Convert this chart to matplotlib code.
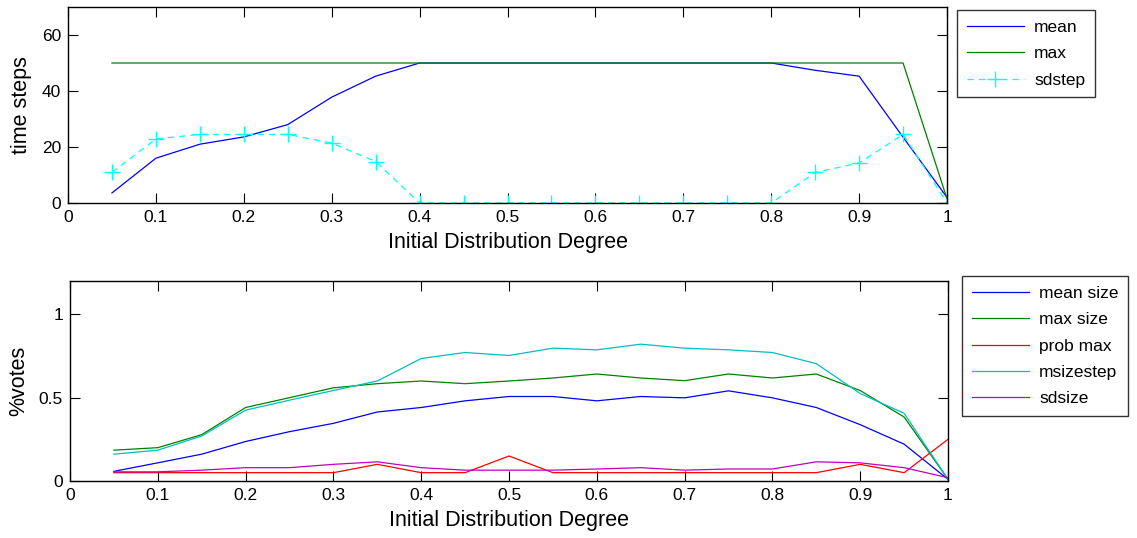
import matplotlib
matplotlib.use("Agg")
import matplotlib.pyplot as plt
import numpy as np

plt.rcParams['font.family'] = ['Liberation Sans', 'DejaVu Sans']

degree = [0.05, 0.10, 0.15, 0.20, 0.25, 0.30, 0.35, 0.40, 0.45, 0.50,
          0.55, 0.60, 0.65, 0.70, 0.75, 0.80, 0.85, 0.90, 0.95, 1.00]

# top panel
mean_steps = [3.6, 16.0, 21.0, 23.6, 28.0, 37.8, 45.3, 50, 50, 50,
              50, 50, 50, 50, 50, 50, 47.4, 45.3, 23.5, 2.0]
max_steps = [50, 50, 50, 50, 50, 50, 50, 50, 50, 50,
             50, 50, 50, 50, 50, 50, 50, 50, 50, 1.5]
sd_steps = [10.9, 22.9, 24.5, 24.5, 24.5, 21.4, 14.8, 0, 0, 0,
            0, 0, 0, 0, 0, 0, 10.9, 14.3, 24.5, 0]

# bottom panel
mean_size = [0.058, 0.109, 0.161, 0.237, 0.296, 0.346, 0.414, 0.441, 0.481, 0.507,
             0.507, 0.481, 0.507, 0.499, 0.541, 0.499, 0.441, 0.338, 0.221, 0.01]
max_size = [0.185, 0.20, 0.278, 0.441, 0.50, 0.559, 0.584, 0.60, 0.584, 0.60,
            0.618, 0.642, 0.618, 0.602, 0.642, 0.618, 0.642, 0.543, 0.384, 0.01]
prob_max = [0.05, 0.05, 0.05, 0.05, 0.05, 0.05, 0.10, 0.05, 0.05, 0.15,
            0.05, 0.05, 0.05, 0.05, 0.05, 0.05, 0.05, 0.10, 0.05, 0.25]
msizestep = [0.161, 0.185, 0.27, 0.425, 0.485, 0.543, 0.60, 0.735, 0.771, 0.753,
             0.797, 0.787, 0.821, 0.797, 0.787, 0.771, 0.704, 0.525, 0.406, 0.01]
sdsize = [0.055, 0.055, 0.065, 0.08, 0.08, 0.10, 0.115, 0.08, 0.065, 0.065,
          0.065, 0.072, 0.08, 0.065, 0.072, 0.072, 0.115, 0.109, 0.08, 0.02]

x_ticks = [0, 0.1, 0.2, 0.3, 0.4, 0.5, 0.6, 0.7, 0.8, 0.9, 1]
x_ticklabels = ['0', '0.1', '0.2', '0.3', '0.4', '0.5', '0.6', '0.7', '0.8', '0.9', '1']

fig = plt.figure(figsize=(11.37, 5.38), dpi=100)
W, H = 1137, 538

def ax_at(l, t, r, b):
    return fig.add_axes([l / W, 1 - b / H, (r - l) / W, (b - t) / H])

ax1 = ax_at(68, 7, 947, 203)
ax2 = ax_at(70, 281, 948, 481)

lw = 0.9
ax1.plot(degree, mean_steps, color=(0, 0, 1), lw=lw, label='mean')
ax1.plot(degree, max_steps, color=(0, 0.5, 0), lw=lw, label='max')
ax1.plot(degree, sd_steps, color=(0, 1, 1), lw=lw, ls=(0, (5, 4)), marker='+',
         markersize=12, markeredgewidth=1.0, label='sdstep')
ax1.set_ylim(0, 70)
ax1.set_yticks([0, 20, 40, 60])
ax1.set_ylabel('time steps', fontsize=15.5, labelpad=7)

ax2.plot(degree, mean_size, color=(0, 0, 1), lw=lw, label='mean size')
ax2.plot(degree, max_size, color=(0, 0.5, 0), lw=lw, label='max size')
ax2.plot(degree, prob_max, color=(1, 0, 0), lw=lw, label='prob max')
ax2.plot(degree, msizestep, color=(0, 0.75, 0.75), lw=lw, label='msizestep')
ax2.plot(degree, sdsize, color=(0.75, 0, 0.75), lw=lw, label='sdsize')
ax2.set_ylim(0, 1.2)
ax2.set_yticks([0, 0.5, 1])
ax2.set_yticklabels(['0', '0.5', '1'])
ax2.set_ylabel('%votes', fontsize=15.5, labelpad=7)

for ax in (ax1, ax2):
    ax.set_xlim(0, 1)
    ax.set_xticks(x_ticks)
    ax.set_xticklabels(x_ticklabels)
    ax.set_xlabel('Initial Distribution Degree', fontsize=15.5, labelpad=5)
    ax.tick_params(direction='in', top=True, right=True, length=7, width=0.8,
                   labelsize=12.5, pad=5)
    for s in ax.spines.values():
        s.set_linewidth(1.0)

leg_kw = dict(loc='upper left', bbox_transform=fig.transFigure, borderaxespad=0,
              fontsize=12.5, frameon=True, fancybox=False, edgecolor='black',
              handlelength=3.3, borderpad=0.55, labelspacing=0.65, handletextpad=0.6)
leg1 = ax1.legend(bbox_to_anchor=(957 / W, 1 - 10 / H), **leg_kw)
leg1.get_frame().set_linewidth(1.0)
leg2 = ax2.legend(bbox_to_anchor=(962 / W, 1 - 276 / H), **leg_kw)
leg2.get_frame().set_linewidth(1.0)

fig.savefig('out.png', dpi=100)
